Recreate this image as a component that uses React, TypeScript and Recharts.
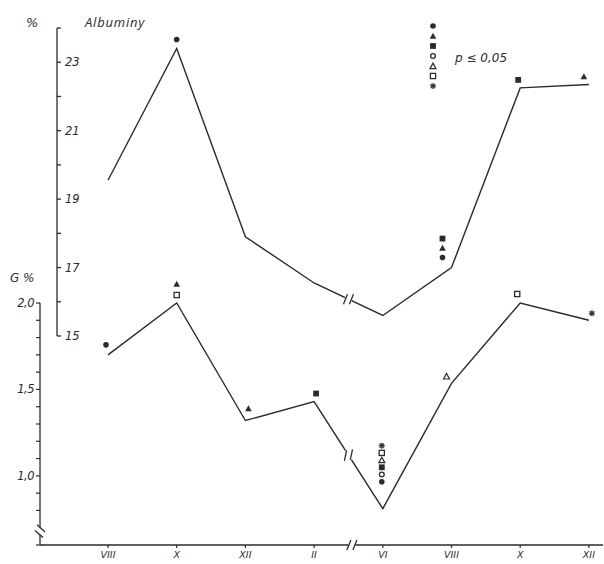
import React from 'react';
import { LineChart, Line, XAxis, YAxis, ReferenceDot } from 'recharts';

// ---------- data ----------
const categories = ['VIII', 'X', 'XII', 'II', 'VI', 'VIII', 'X', 'XII'];
const albuminValues = [19.55, 23.4, 17.9, 16.55, 15.6, 17.0, 22.25, 22.35];
const gammaValues = [1.7, 2.0, 1.32, 1.43, 0.81, 1.535, 2.0, 1.9];
const albuminTicks = [15, 16, 17, 18, 19, 20, 21, 22, 23, 24];
const albuminTickLabels = ['15', '', '17', '', '19', '', '21', '', '23', ''];
const gammaTicks = [0.6, 0.7, 0.8, 0.9, 1.0, 1.1, 1.2, 1.3, 1.4, 1.5, 1.6, 1.7, 1.8, 1.9, 2.0];
const gammaTickLabels = ['', '', '', '', '1,0', '', '', '', '', '1,5', '', '', '', '', '2,0'];
// significance markers (bottom -> top) per category
const albuminMarkers = [[], ['c'], [], [], [], ['c', 't', 's'], ['s'], ['t']];
const gammaMarkers = [['c'], ['os', 't'], ['t'], ['s'], ['c', 'oc', 's', 'ot', 'os', 'x'], ['ot'], ['os'], ['x']];
const legendMarkers = ['c', 't', 's', 'oc', 'ot', 'os', 'x'];

// ---------- layout (styles only) ----------
const albuminMarkerLayout = [
  [0, 9, 9], [0, 9, 9], [0, 9, 9], [0, 9, 9], [0, 9, 9], [-9, 10, 9.5], [-2, 8, 9], [-5, 8, 9],
];
const gammaMarkerLayout = [
  [-2, 10, 9], [0, 8, 11], [3, 12, 9], [2, 8, 9], [-1, 27, 7.2], [-5, 7, 9], [-3, 9, 9], [3, 7, 9],
];

const INK = '#2b2b2b';
const FONT = '"DejaVu Sans", sans-serif';

const albuminData = categories.map((c, i) => ({ x: i, v: albuminValues[i], m: albuminMarkers[i] }));
const gammaData = categories.map((c, i) => ({ x: i, v: gammaValues[i], m: gammaMarkers[i] }));

function Marker({ type, x, y }: { type: string; x: number; y: number }) {
  const r = 2.8;
  switch (type) {
    case 'c':
      return <circle cx={x} cy={y} r={r} fill={INK} />;
    case 'oc':
      return <circle cx={x} cy={y} r={r - 0.4} fill="#fff" stroke={INK} strokeWidth={1.3} />;
    case 't':
      return <polygon points={`${x - 3.3},${y + 2.8} ${x + 3.3},${y + 2.8} ${x},${y - 3.2}`} fill={INK} />;
    case 'ot':
      return (
        <polygon points={`${x - 3},${y + 2.6} ${x + 3},${y + 2.6} ${x},${y - 2.9}`} fill="#fff" stroke={INK} strokeWidth={1.2} />
      );
    case 's':
      return <rect x={x - 2.9} y={y - 2.9} width={5.8} height={5.8} fill={INK} />;
    case 'os':
      return <rect x={x - 2.6} y={y - 2.6} width={5.2} height={5.2} fill="#fff" stroke={INK} strokeWidth={1.3} />;
    case 'x':
      return (
        <g stroke={INK} strokeWidth={1.2}>
          <line x1={x - 3} y1={y} x2={x + 3} y2={y} />
          <line x1={x} y1={y - 3} x2={x} y2={y + 3} />
          <line x1={x - 2.2} y1={y - 2.2} x2={x + 2.2} y2={y + 2.2} />
          <line x1={x - 2.2} y1={y + 2.2} x2={x + 2.2} y2={y - 2.2} />
        </g>
      );
    default:
      return null;
  }
}

function makeDot(layout: number[][]) {
  return (props: any) => {
    const { cx, cy, index, payload } = props;
    const [dx, gap, step] = layout[index];
    const list: string[] = payload.m || [];
    return (
      <g key={`dot-${index}`}>
        {list.map((t, k) => (
          <Marker key={k} type={t} x={cx + dx} y={cy - gap - k * step} />
        ))}
      </g>
    );
  };
}

const BreakMark = (props: any) => {
  const { cx, cy, angle = 0 } = props;
  return (
    <g transform={`translate(${cx},${cy}) rotate(${angle})`}>
      <rect x={-3.5} y={-5} width={7} height={10} fill="#fff" />
      <line x1={-5} y1={5} x2={-1} y2={-5} stroke={INK} strokeWidth={1.3} />
      <line x1={1} y1={5} x2={5} y2={-5} stroke={INK} strokeWidth={1.3} />
    </g>
  );
};

const AlbuminTick = (props: any) => {
  const { x, y, index } = props;
  const label = albuminTickLabels[index] ?? '';
  return (
    <text x={x + 2} y={y + 4} fontSize={11.5} fontStyle="italic" fill={INK} fontFamily={FONT} textAnchor="start">
      {label}
    </text>
  );
};

const GammaTick = (props: any) => {
  const { x, y, index } = props;
  const label = gammaTickLabels[index] ?? '';
  return (
    <text x={x} y={y + 4} fontSize={11.5} fontStyle="italic" fill={INK} fontFamily={FONT} textAnchor="end" letterSpacing={-0.5}>
      {label}
    </text>
  );
};

const CatTick = (props: any) => {
  const { x, y, payload } = props;
  return (
    <text x={x} y={y + 8} fontSize={9.5} fontStyle="italic" fill={INK} fontFamily={FONT} textAnchor="middle">
      {categories[payload.value]}
    </text>
  );
};

const X0 = 108;
const DX = 68.7;
const RIGHT = 603;

export default function App() {
  const layer: React.CSSProperties = { position: 'absolute', left: 0, top: 0 };
  return (
    <div style={{ position: 'absolute', left: 0, top: 0, width: 604, height: 564, background: '#fff' }}>
      <div style={layer}>
        <LineChart width={604} height={564} data={albuminData} margin={{ top: 28, right: 604 - RIGHT, left: 57, bottom: 228 }}>
          <XAxis type="number" dataKey="x" hide domain={[(57 - X0) / DX, (RIGHT - X0) / DX]} />
          <YAxis
            domain={[15, 24]}
            ticks={albuminTicks}
            mirror
            interval={0}
            tickSize={4}
            axisLine={{ stroke: INK, strokeWidth: 1.3 }}
            tickLine={{ stroke: INK, strokeWidth: 1.3 }}
            tick={<AlbuminTick />}
          />
          <Line
            type="linear"
            dataKey="v"
            stroke={INK}
            strokeWidth={1.4}
            dot={makeDot(albuminMarkerLayout)}
            activeDot={false}
            isAnimationActive={false}
          />
          <ReferenceDot
            x={3.5}
            y={(albuminValues[3] + albuminValues[4]) / 2}
            r={0}
            shape={<BreakMark angle={0} />}
            ifOverflow="visible"
          />
        </LineChart>
      </div>
      <div style={layer}>
        <LineChart width={604} height={564} data={gammaData} margin={{ top: 303, right: 604 - RIGHT, left: 0, bottom: 0 }}>
          <XAxis
            type="number"
            dataKey="x"
            domain={[(40 - X0) / DX, (RIGHT - X0) / DX]}
            ticks={[0, 1, 2, 3, 4, 5, 6, 7]}
            interval={0}
            height={19}
            tickSize={3}
            axisLine={{ stroke: INK, strokeWidth: 1.4 }}
            tickLine={{ stroke: INK, strokeWidth: 1.2 }}
            tick={<CatTick />}
          />
          <YAxis
            width={40}
            domain={[0.6, 2.0]}
            ticks={gammaTicks}
            interval={0}
            tickSize={4}
            axisLine={{ stroke: INK, strokeWidth: 1.3 }}
            tickLine={{ stroke: INK, strokeWidth: 1.2 }}
            tick={<GammaTick />}
          />
          <Line
            type="linear"
            dataKey="v"
            stroke={INK}
            strokeWidth={1.4}
            dot={makeDot(gammaMarkerLayout)}
            activeDot={false}
            isAnimationActive={false}
          />
          <ReferenceDot
            x={3.5}
            y={(gammaValues[3] + gammaValues[4]) / 2}
            r={0}
            shape={<BreakMark angle={-10} />}
            ifOverflow="visible"
          />
          <ReferenceDot x={3.55} y={0.6} r={0} shape={<BreakMark angle={0} />} ifOverflow="visible" />
          <ReferenceDot x={(40 - X0) / DX} y={0.68} r={0} shape={<BreakMark angle={-70} />} ifOverflow="visible" />
        </LineChart>
      </div>
      <svg style={{ position: 'absolute', left: 0, top: 0 }} width={604} height={564} pointerEvents="none">
        <text x={26} y={27} fontSize={13} fontStyle="italic" fill={INK} fontFamily={FONT}>%</text>
        <text x={85} y={27} fontSize={13} fontStyle="italic" fill={INK} fontFamily='"Open Sans", sans-serif' letterSpacing={0.8}>
          Albuminy
        </text>
        <text x={10} y={282} fontSize={12} fontStyle="italic" fill={INK} fontFamily={FONT}>G %</text>
        <text x={455} y={62} fontSize={12} fontStyle="italic" fill={INK} fontFamily={FONT}>p ≤ 0,05</text>
        {legendMarkers.map((t, k) => (
          <Marker key={k} type={t} x={433} y={26 + k * 10} />
        ))}
      </svg>
    </div>
  );
}
